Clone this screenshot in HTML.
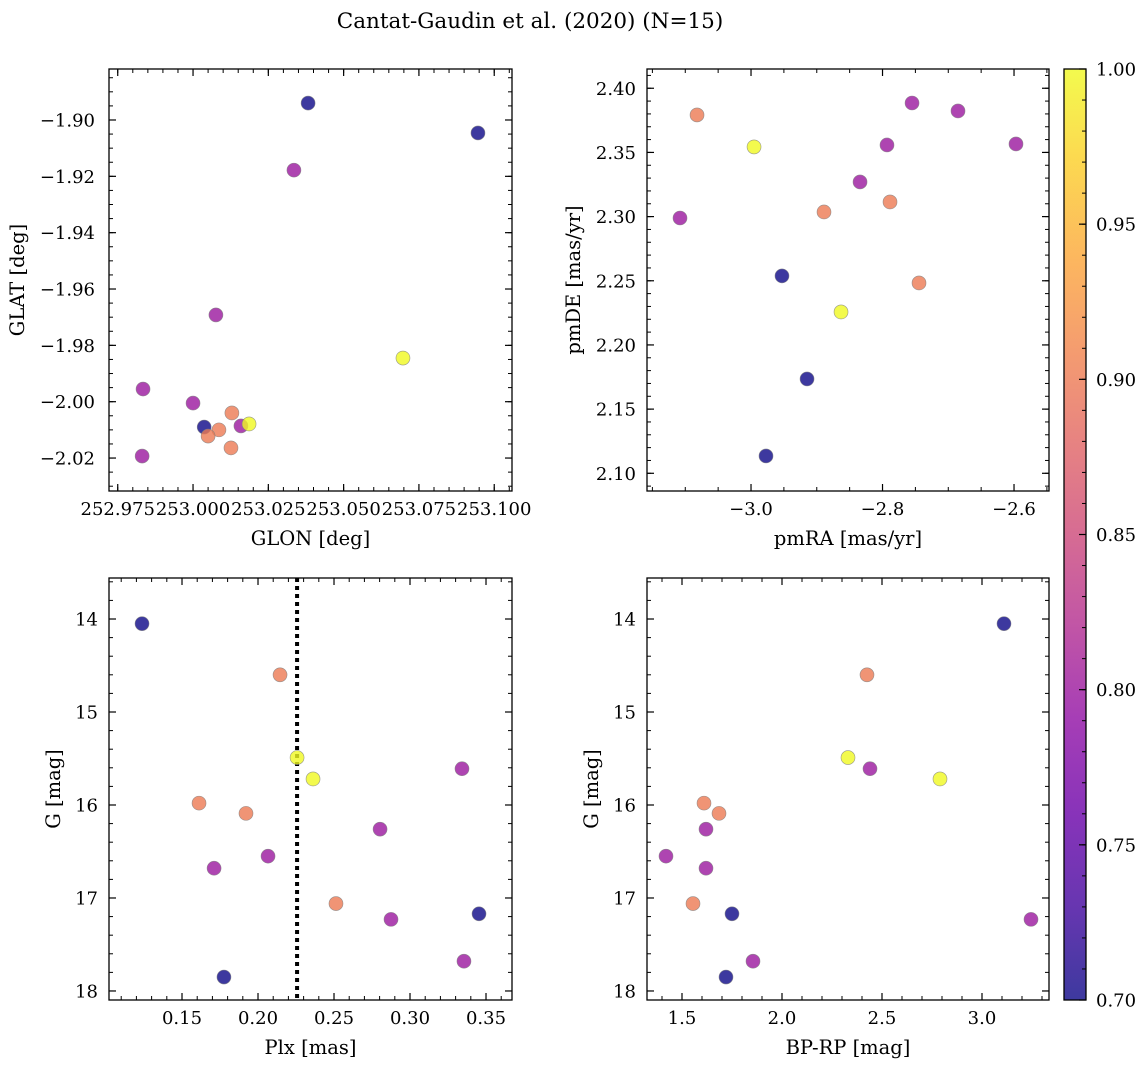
<!DOCTYPE html>
<html><head><meta charset="utf-8"><style>
html,body{margin:0;padding:0;background:#fff;}
svg text{font-family:"DejaVu Serif","Liberation Serif",serif;fill:#000;}
</style></head><body>
<svg id="fig" width="1148" height="1068" viewBox="0 0 1148 1068" xmlns="http://www.w3.org/2000/svg">
<defs>
<linearGradient id="plasma" x1="0" y1="1" x2="0" y2="0">
<stop offset="0" stop-color="#0d0887"/><stop offset="0.1" stop-color="#41049d"/><stop offset="0.2" stop-color="#6a00a8"/><stop offset="0.3" stop-color="#8f0da4"/><stop offset="0.4" stop-color="#b12a90"/><stop offset="0.5" stop-color="#cc4778"/><stop offset="0.6" stop-color="#e16462"/><stop offset="0.7" stop-color="#f2844b"/><stop offset="0.8" stop-color="#fca636"/><stop offset="0.9" stop-color="#fcce25"/><stop offset="1" stop-color="#f0f921"/>
</linearGradient>
</defs>
<text x="530" y="28" font-size="21.5" text-anchor="middle">Cantat-Gaudin et al. (2020) (N=15)</text>
</svg>
<script>
// ---- data ----
const glon = [253.0382,253.0946,253.0335,253.0076,253.0697,252.9834,253.0000,253.0129,253.0037,253.0086,253.0050,253.0159,253.0186,253.0126,252.9831];
const glat = [-1.8940,-1.9046,-1.9178,-1.9692,-1.9845,-1.9955,-2.0005,-2.0040,-2.0090,-2.0100,-2.0122,-2.0086,-2.0079,-2.0164,-2.0193];
const probTL = [0.70,0.70,0.80,0.80,1.00,0.80,0.80,0.90,0.70,0.90,0.90,0.80,1.00,0.90,0.80];

const pmra = [-3.0821,-2.8890,-2.7886,-2.7445,-2.9954,-2.8631,-2.9529,-2.9148,-2.9772,-3.1080,-2.7551,-2.6852,-2.7932,-2.8342,-2.5970];
const pmde = [2.3792,2.3036,2.3114,2.2483,2.3543,2.2257,2.2538,2.1735,2.1135,2.2989,2.3885,2.3823,2.3558,2.3270,2.3566];
const probTR = [0.90,0.90,0.90,0.90,1.00,1.00,0.70,0.70,0.70,0.80,0.80,0.80,0.80,0.80,0.80];

const plx = [0.1237,0.2145,0.2257,0.2362,0.3342,0.1612,0.1921,0.2803,0.2066,0.1711,0.2513,0.2875,0.3454,0.3355,0.1776];
const gmagBL = [14.05,14.60,15.49,15.72,15.61,15.98,16.09,16.26,16.55,16.68,17.06,17.23,17.17,17.68,17.85];
const probBL = [0.70,0.90,1.00,1.00,0.80,0.90,0.90,0.80,0.80,0.80,0.90,0.80,0.70,0.80,0.70];
const plxMean = [0.2257];

const bprp = [3.110,2.425,2.330,2.790,2.440,1.610,1.685,1.620,1.420,1.620,1.555,1.750,1.855,1.720,3.245];
const gmagBR = [14.05,14.60,15.49,15.72,15.61,15.98,16.09,16.26,16.55,16.68,17.06,17.17,17.68,17.85,17.23];
const probBR = [0.70,0.90,1.00,1.00,0.80,0.90,0.90,0.80,0.80,0.80,0.90,0.70,0.80,0.70,0.80];

const ticksTLx = [252.975,253.000,253.025,253.050,253.075,253.100];
const ticksTLy = [-1.90,-1.92,-1.94,-1.96,-1.98,-2.00,-2.02];
const ticksTRx = [-3.0,-2.8,-2.6];
const ticksTRy = [2.10,2.15,2.20,2.25,2.30,2.35,2.40];
const ticksBLx = [0.15,0.20,0.25,0.30,0.35];
const ticksGy = [14,15,16,17,18];
const ticksBRx = [1.5,2.0,2.5,3.0];
const ticksCbar = [0.70,0.75,0.80,0.85,0.90,0.95,1.00];

// ---- drawing ----
const NS = "http://www.w3.org/2000/svg";
const svg = document.getElementById('fig');
const TFS = 18, LFS = 19.5;
function mk(tag, attrs, parent){ const e=document.createElementNS(NS,tag); for(const k in attrs) e.setAttribute(k,attrs[k]); (parent||svg).appendChild(e); return e; }
const plasmaStops = ["#0d0887","#41049d","#6a00a8","#8f0da4","#b12a90","#cc4778","#e16462","#f2844b","#fca636","#fcce25","#f0f921"];
function hex(h){return [parseInt(h.substr(1,2),16),parseInt(h.substr(3,2),16),parseInt(h.substr(5,2),16)];}
function plasma(t){ t=Math.max(0,Math.min(1,t)); const f=t*10, i=Math.min(9,Math.floor(f)), r=f-i; const a=hex(plasmaStops[i]), b=hex(plasmaStops[i+1]); return 'rgb('+a.map((v,k)=>Math.round(v+(b[k]-v)*r)).join(',')+')'; }
function lin(d0,d1,r0,r1){ return v => r0+(v-d0)/(d1-d0)*(r1-r0); }

function panel(o){
  const g = mk('g',{});
  
  
  const sx = lin(o.xd[0],o.xd[1],o.x0,o.x1), sy = lin(o.yd[0],o.yd[1],o.y1,o.y0);
  const xm = o.xminor, ym = o.yminor;
  for(let v=Math.ceil(o.xd[0]/xm)*xm; v<=o.xd[1]; v+=xm){ const p=sx(v);
    mk('line',{x1:p,x2:p,y1:o.y1,y2:o.y1-4,stroke:'#000','stroke-width':1},g); mk('line',{x1:p,x2:p,y1:o.y0,y2:o.y0+4,stroke:'#000','stroke-width':1},g); }
  const ylo=Math.min(o.yd[0],o.yd[1]), yhi=Math.max(o.yd[0],o.yd[1]);
  for(let v=Math.ceil(ylo/ym)*ym; v<=yhi; v+=ym){ const p=sy(v);
    mk('line',{x1:o.x0,x2:o.x0+4,y1:p,y2:p,stroke:'#000','stroke-width':1},g); mk('line',{x1:o.x1,x2:o.x1-4,y1:p,y2:p,stroke:'#000','stroke-width':1},g); }
  o.xt.forEach(v=>{ const p=sx(v);
    mk('line',{x1:p,x2:p,y1:o.y1,y2:o.y1-7,stroke:'#000','stroke-width':1.2},g); mk('line',{x1:p,x2:p,y1:o.y0,y2:o.y0+7,stroke:'#000','stroke-width':1.2},g);
    const t=mk('text',{x:p,y:o.y1+24,'font-size':TFS,'text-anchor':'middle'},g); t.textContent=o.xfmt(v);
      });
  o.yt.forEach(v=>{ const p=sy(v);
    mk('line',{x1:o.x0,x2:o.x0+7,y1:p,y2:p,stroke:'#000','stroke-width':1.2},g); mk('line',{x1:o.x1,x2:o.x1-7,y1:p,y2:p,stroke:'#000','stroke-width':1.2},g);
    const t=mk('text',{x:o.x0-o.ypad,y:p+6.5,'font-size':TFS,'text-anchor':'end'},g); t.textContent=o.yfmt(v);
      });
  if(o.vline!==undefined){ const p=sx(o.vline);
    const l=mk('line',{x1:p,x2:p,y1:o.y0,y2:o.y1,stroke:'#000','stroke-width':4,'stroke-dasharray':'4,4'},g);
      }
  o.xs.forEach((v,i)=>{
    const c=mk('circle',{cx:sx(v),cy:sy(o.ys[i]),r:7,fill:plasma((o.c[i]-0.7)/0.3),'fill-opacity':0.8,stroke:'#808080','stroke-opacity':0.8,'stroke-width':0.6},g);
      });
  mk('rect',{x:o.x0,y:o.y0,width:o.x1-o.x0,height:o.y1-o.y0,fill:'none',stroke:'#000','stroke-width':1.3},g);
  const xl=mk('text',{x:(o.x0+o.x1)/2,y:o.y1+54,'font-size':LFS,'text-anchor':'middle'},g); xl.textContent=o.xlabel;
   
  const yl=mk('text',{x:0,y:0,'font-size':LFS,'text-anchor':'middle',transform:'translate('+o.ylx+','+(o.y0+o.y1)/2+') rotate(-90)'},g); yl.textContent=o.ylabel;
   
}
const f = d => v => (v<0?'\u2212':'')+Math.abs(v).toFixed(d);

panel({name:'glon-glat-panel',x0:109,x1:512,y0:69,y1:491,xd:[252.9721,253.1059],yd:[-2.0317,-1.8819],xt:ticksTLx,yt:ticksTLy,xminor:0.005,yminor:0.005,xfmt:f(3),yfmt:f(2),ypad:14,xs:glon,ys:glat,c:probTL,xlabel:'GLON [deg]',ylabel:'GLAT [deg]',ylx:24});
panel({name:'proper-motion-panel',x0:647,x1:1049,y0:69,y1:491,xd:[-3.1582,-2.5468],yd:[2.0862,2.4150],xt:ticksTRx,yt:ticksTRy,xminor:0.05,yminor:0.01,xfmt:f(1),yfmt:f(2),ypad:11,xs:pmra,ys:pmde,c:probTR,xlabel:'pmRA [mas/yr]',ylabel:'pmDE [mas/yr]',ylx:580});
panel({name:'parallax-mag-panel',x0:109,x1:512,y0:578,y1:1000,xd:[0.10197,0.3671],yd:[18.097,13.559],xt:ticksBLx,yt:ticksGy,xminor:0.01,yminor:0.2,xfmt:f(2),yfmt:f(0),ypad:11,xs:plx,ys:gmagBL,c:probBL,vline:plxMean[0],xlabel:'Plx [mas]',ylabel:'G [mag]',ylx:60});
panel({name:'cmd-panel',x0:647,x1:1049,y0:578,y1:1000,xd:[1.325,3.335],yd:[18.097,13.559],xt:ticksBRx,yt:ticksGy,xminor:0.1,yminor:0.2,xfmt:f(1),yfmt:f(0),ypad:11,xs:bprp,ys:gmagBR,c:probBR,xlabel:'BP-RP [mag]',ylabel:'G [mag]',ylx:598});

// colorbar
const cb = mk('g',{});


const cy = lin(0.70,1.00,1000,69);
mk('rect',{x:1064,y:69,width:22,height:931,fill:'url(#plasma)','fill-opacity':0.8},cb);
for(let v=0.70; v<=1.0001; v+=0.01){ const p=cy(v); mk('line',{x1:1086,x2:1082,y1:p,y2:p,stroke:'#000','stroke-width':1},cb); }
ticksCbar.forEach(v=>{ const p=cy(v);
  mk('line',{x1:1086,x2:1079,y1:p,y2:p,stroke:'#000','stroke-width':1.2},cb);
  const t=mk('text',{x:1096,y:p+6.5,'font-size':TFS},cb); t.textContent=v.toFixed(2);
    });
mk('rect',{x:1064,y:69,width:22,height:931,fill:'none',stroke:'#000','stroke-width':1.3},cb);
</script>
</body></html>
